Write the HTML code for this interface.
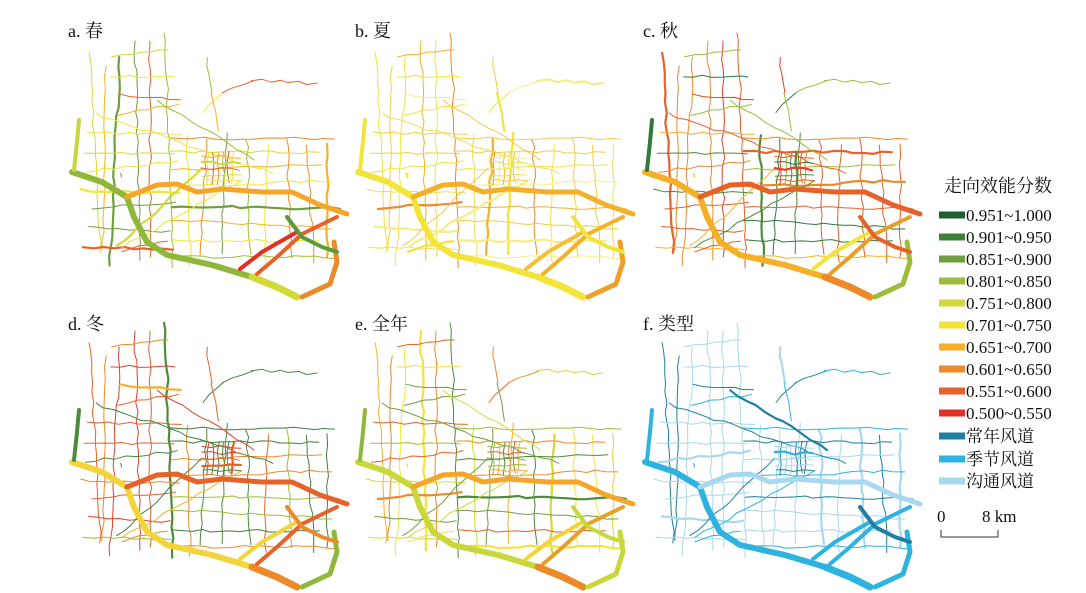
<!DOCTYPE html>
<html><head><meta charset="utf-8"><style>
body{margin:0;background:#fff;width:1086px;height:593px;overflow:hidden}
svg{display:block}
text{font-family:"Liberation Serif","Noto Serif CJK SC",serif;fill:#111}
</style></head><body>
<svg id="s" width="1086" height="593" viewBox="0 0 1086 593" xmlns="http://www.w3.org/2000/svg">
<g id="maps" fill="none" stroke-linecap="round" stroke-linejoin="round"></g>
<text x="68" y="37" font-size="18">a. 春</text>
<text x="355" y="37" font-size="18">b. 夏</text>
<text x="643" y="37" font-size="18">c. 秋</text>
<text x="68" y="330" font-size="18">d. 冬</text>
<text x="355" y="330" font-size="18">e. 全年</text>
<text x="643" y="330" font-size="18">f. 类型</text>
<text x="944" y="192" font-size="18">走向效能分数</text>
<g id="leg"></g>
<text x="937" y="522" font-size="17">0</text>
<text x="982" y="522" font-size="17">8 km</text>
<path d="M941 530 V537 H998 V530" stroke="#333" fill="none" stroke-width="1"/>
</svg>
<script>
const ns="http://www.w3.org/2000/svg";
const leg=[['#1e5e34','0.951~1.000'],['#3f7f3c','0.901~0.950'],['#6e9e3e','0.851~0.900'],['#9bbd3a','0.801~0.850'],['#d4d93a','0.751~0.800'],['#f3e43a','0.701~0.750'],['#f5b02a','0.651~0.700'],['#ec8a2a','0.601~0.650'],['#e5622a','0.551~0.600'],['#e0302a','0.500~0.550'],['#1e7fa0','常年风道'],['#2eb3e0','季节风道'],['#a8d8ef','沟通风道']];
const ys=[215,237,259,281,303,325,347,369,391,413,436,459,481];
let lg=document.getElementById('leg');
leg.forEach((l,i)=>{let r=document.createElementNS(ns,'rect');r.setAttribute('x',939);r.setAttribute('y',ys[i]-3.5);r.setAttribute('width',26);r.setAttribute('height',7);r.setAttribute('fill',l[0]);lg.appendChild(r);
let t=document.createElementNS(ns,'text');t.setAttribute('x',966);t.setAttribute('y',ys[i]+6);t.setAttribute('font-size','17');t.textContent=l[1];lg.appendChild(t);});
let seed=7;function rnd(){seed=(seed*16807)%2147483647;return seed/2147483647;}
const thick=[
[[[10,160],[40,170],[65,185],[72,205],[85,230],[105,243],[150,253],[190,265]],6],
[[[190,265],[215,275],[235,285]],7],
[[[240,285],[268,272],[275,250],[272,230]],5],
[[[65,185],[95,173],[115,172],[135,180],[160,177],[200,180],[230,180],[258,193],[285,202]],5],
[[[195,262],[215,245],[240,222],[275,205]],4],
[[[178,257],[200,240],[235,220]],4],
[[[12,158],[15,130],[17,108]],4],
[[[225,205],[240,225],[260,235],[275,240]],4]];
const tc={a:['#8fb83a','#d4d93a','#ec8a2a','#f5a52a','#e5622a','#e0302a','#c8d83a','#5a9a3a'],
b:['#f3e43a','#f3e43a','#f0a02a','#f5b02a','#f5b02a','#f3c03a','#f3e43a','#f3e43a'],
c:['#f5b02a','#ec8a2a','#9bbd3a','#e5622a','#e5a02a','#f3e43a','#2f7a3a','#e5622a'],
d:['#f3d43a','#ec8a2a','#8fb83a','#e5622a','#e5622a','#f3d43a','#4d8a3a','#ec8a2a'],
e:['#c8d83a','#ec8a2a','#c8d83a','#f5a52a','#e5a02a','#f3d43a','#8fb83a','#c8d83a'],
f:['#2eb3e0','#2eb3e0','#2eb3e0','#a8d8ef','#2eb3e0','#2eb3e0','#2eb3e0','#1e7fa0']};
const pal={a:['#d4d93a','#f3e43a','#f5b02a','#ec8a2a','#e5622a','#9bbd3a','#6e9e3e','#f3e43a'],
b:['#f3e43a','#f6ec8a','#f5d040','#f5b02a','#f3e43a','#eadf60','#f5c84a','#ec8a2a'],
c:['#e5622a','#ec8a2a','#2f7a3a','#4d8a3a','#e5622a','#f5b02a','#9bbd3a','#e0402a'],
d:['#e5622a','#ec8a2a','#4d8a3a','#3f7f3c','#e5622a','#f5b02a','#9bbd3a','#e0402a'],
e:['#f5b02a','#ec8a2a','#6e9e3e','#4d8a3a','#e5622a','#f3e43a','#9bbd3a','#d4d93a'],
f:['#1e7fa0','#2eb3e0','#a8d8ef','#a8d8ef','#2eb3e0','#a8d8ef','#1e7fa0','#a8d8ef']};
let thin=[];
function wav(a,b){let pts=[];let dx=b[0]-a[0],dy=b[1]-a[1];let n=Math.max(2,Math.round(Math.hypot(dx,dy)/10));for(let i=0;i<=n;i++){pts.push([a[0]+dx*i/n+(rnd()-.5)*3,a[1]+dy*i/n+(rnd()-.5)*3]);}return pts;}
for(let x=28;x<=105;x+=15){let top=x<60?40+rnd()*30:15+rnd()*20;thin.push(wav([x,top],[x+(rnd()-.5)*25,235+rnd()*20]));}
for(let x=125;x<=265;x+=20){let top=x<170?110+rnd()*20:125+rnd()*10;thin.push(wav([x,top],[x+(rnd()-.5)*15,240+rnd()*15]));}
for(let y=45;y<=250;y+=19){let x0=y<110?45+rnd()*15:10+rnd()*20;thin.push(wav([x0,y],[105+rnd()*15,y+(rnd()-.5)*20]));}
for(let y=125;y<=250;y+=17){thin.push(wav([110,y+(rnd()-.5)*6],[255+rnd()*25,y+(rnd()-.5)*15]));}
for(let i=0;i<6;i++){thin.push(wav([20+rnd()*80,60+rnd()*180],[60+rnd()*180,100+rnd()*150]));}
thin.push(wav([140,100],[160,80]));thin.push(wav([160,80],[190,68]));thin.push(wav([190,68],[255,72]));
thin.push(wav([145,45],[150,80]));thin.push(wav([150,80],[155,120]));
for(let x=146;x<=172;x+=5)thin.push(wav([x,140],[x,172]));
for(let y=145;y<=170;y+=6)thin.push(wav([140,y],[178,y]));
const offs={a:[62,12],b:[348,12],c:[635,12],d:[62,302],e:[348,302],f:[635,302]};
let g=document.getElementById('maps');
function pl(pts,o,c,w){let p=document.createElementNS(ns,'polyline');p.setAttribute('points',pts.map(q=>(q[0]+o[0]).toFixed(1)+','+(q[1]+o[1]).toFixed(1)).join(' '));p.setAttribute('stroke',c);p.setAttribute('stroke-width',w);g.appendChild(p);}
let k=0;
for(const key in offs){const o=offs[key];seed=101+k*37;k++;
thin.forEach(t=>{let c=pal[key][Math.floor(rnd()*8)];let w=rnd()<0.12?2.2:1;pl(t,o,c,w);});
thick.forEach((t,i)=>pl(t[0],o,tc[key][i],t[1]));}
</script>
</body></html>
